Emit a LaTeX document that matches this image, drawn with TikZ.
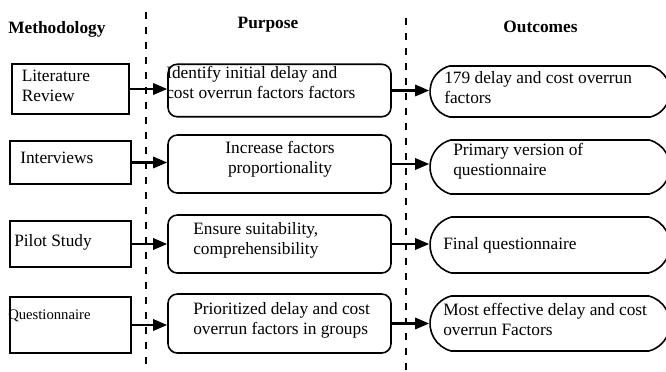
\documentclass[tikz,border=0pt]{standalone}
\usepackage{fontspec}
\setmainfont{Liberation Serif}
\usetikzlibrary{arrows.meta,shapes.misc}
\begin{document}
\begin{tikzpicture}[x=.75pt,y=-.75pt,
  method/.style={draw,line width=1.2pt,minimum width=90.75pt,inner sep=0pt},
  purpose/.style={draw,line width=1.2pt,rounded corners=7pt,minimum width=167.25pt,inner sep=0pt},
  outcome/.style={draw,line width=1.2pt,rounded rectangle,rounded rectangle arc length=150,minimum width=180pt,inner sep=0pt},
  txt/.style={anchor=west,align=left,inner sep=0pt,font=\fontsize{13pt}{15pt}\selectfont},
  head/.style={anchor=base,inner sep=0pt,font=\fontsize{13pt}{15pt}\selectfont\bfseries},
  divider/.style={line width=1.3pt,dash pattern=on 5.25pt off 6pt},
  link/.style={line width=1.6pt,-{Triangle[length=10.5pt,width=8.5pt]}}]
\useasboundingbox (0,0) rectangle (666,371);
% column headings
\node[head,anchor=base west] (hm) at (8,33) {Methodology};
\node[head] (hp) at (268,28) {Purpose};
\node[head] (ho) at (540.5,32) {Outcomes};
% dashed separators
\draw[divider] (146,12) -- (146,371);
\draw[divider] (406,18) -- (406,371);
% methodology boxes
\node[method,minimum width=87.75pt,minimum height=37.5pt] (m1) at (70.5,89) {};
\node[method,minimum height=32.25pt] (m2) at (70.5,162.5) {};
\node[method,minimum height=34.5pt] (m3) at (70.5,244) {};
\node[method,minimum height=42pt] (m4) at (70.5,325) {};
% purpose boxes
\node[purpose,minimum height=39.4pt] (p1) at (279.5,90.5) {};
\node[purpose,minimum height=43.5pt] (p2) at (279.5,164) {};
\node[purpose,minimum height=43.5pt] (p3) at (279.5,244) {};
\node[purpose,minimum height=44.25pt] (p4) at (279.5,323.5) {};
% outcome boxes
\node[outcome,minimum height=38.25pt] (o1) at (550,91.5) {};
\node[outcome,minimum height=40.5pt] (o2) at (550,167) {};
\node[outcome,minimum height=42pt] (o3) at (550,245) {};
\node[outcome,minimum height=41.25pt] (o4) at (550,323.5) {};
% texts
\node[txt] (tm1) at (21.5,85.5) {Literature\\Review};
\node[txt] (tm2) at (20,158) {Interviews};
\node[txt] (tm3) at (14,242.5) {Pilot Study};
\node[txt,font=\fontsize{11pt}{13pt}\selectfont] (tm4) at (8,316) {Questionnaire};
\node[txt] (tp1) at (166,82) {Identify initial delay and\\cost overrun factors factors};
\node[txt,align=center,anchor=center] (tp2) at (280,159.5) {Increase factors\\proportionality};
\node[txt] (tp3) at (193,240.5) {Ensure suitability,\\comprehensibility};
\node[txt] (tp4) at (193,320) {Prioritized delay and cost\\overrun factors in groups};
\node[txt] (to1) at (444,88) {179 delay and cost overrun\\factors};
\node[txt] (to2) at (453,161) {Primary version of\\questionnaire};
\node[txt] (to3) at (443,245.5) {Final questionnaire};
\node[txt] (to4) at (443,319) {Most effective delay and cost\\overrun Factors};
% arrows
\draw[link] (m1.east) -- (m1.east -| p1.west);
\draw[link] (m2.east) -- (m2.east -| p2.west);
\draw[link] (m3.east) -- (m3.east -| p3.west);
\draw[link] (m4.east) -- (m4.east -| p4.west);
\draw[link] (p1.east) -- (p1.east -| o1.west);
\draw[link] (p2.east) -- (p2.east -| o2.west);
\draw[link] (p3.east) -- (p3.east -| o3.west);
\draw[link] (p4.east) -- (p4.east -| o4.west);
\end{tikzpicture}
\end{document}
